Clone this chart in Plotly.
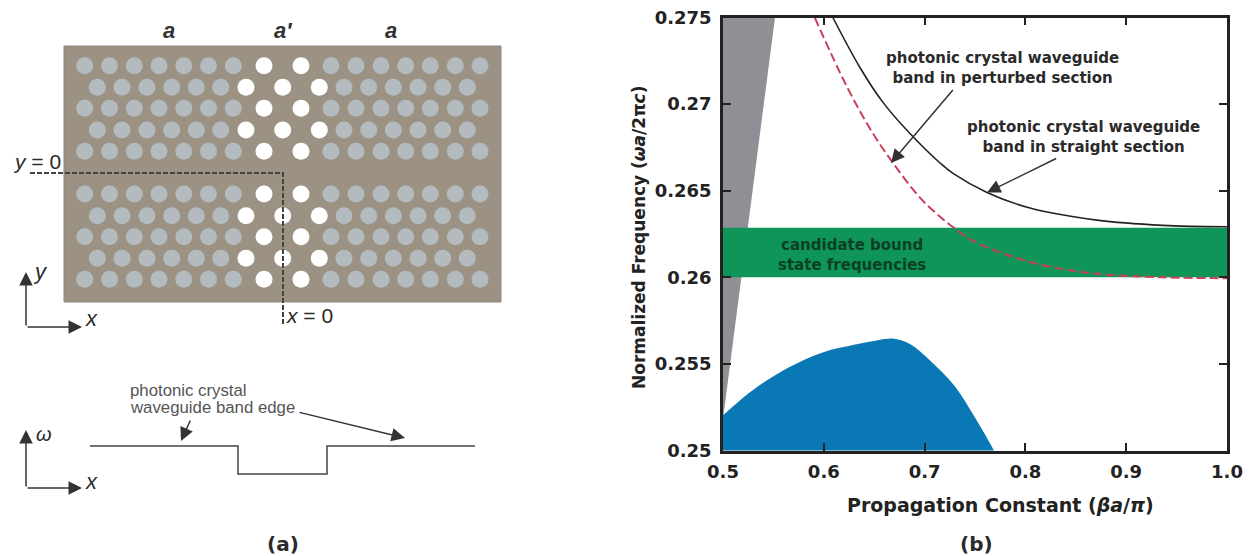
import plotly.graph_objects as go

# ---- panel (b) data ----
beta_straight = [0.609, 0.636, 0.6587, 0.6855, 0.7153, 0.7282, 0.7619, 0.8046, 0.871, 0.9365, 1.0]
freq_straight = [0.2750, 0.2721, 0.2701, 0.2683, 0.2666, 0.2660, 0.2649, 0.2640, 0.2633, 0.2630, 0.26292]
beta_perturbed = [0.591, 0.623, 0.6488, 0.6687, 0.6954, 0.7153, 0.7282, 0.748, 0.7817, 0.8175, 0.871, 0.9365, 1.0]
freq_perturbed = [0.2750, 0.2710, 0.2683, 0.2666, 0.2646, 0.2635, 0.2629, 0.2621, 0.2613, 0.2607, 0.2602, 0.2600, 0.25995]
beta_blue = [0.49, 0.5, 0.5298, 0.5655, 0.5982, 0.63, 0.6538, 0.6696, 0.6855, 0.7054, 0.7302, 0.75, 0.7688, 0.775, 0.49]
freq_blue = [0.2515, 0.25204, 0.2535, 0.2548, 0.25565, 0.2561, 0.25637, 0.25645, 0.25615, 0.2552, 0.2537, 0.2519, 0.25, 0.2493, 0.2493]
beta_gray = [0.5, 0.5, 0.5516, 0.5]
freq_gray = [0.2518, 0.275, 0.275, 0.2518]
beta_band = [0.5, 1.0, 1.0, 0.5, 0.5]
freq_band = [0.26, 0.26, 0.26286, 0.26286, 0.26]
x_ticks = [0.5, 0.6, 0.7, 0.8, 0.9, 1.0]
x_ticktext = ["0.5", "0.6", "0.7", "0.8", "0.9", "1.0"]
y_ticks = [0.25, 0.255, 0.26, 0.265, 0.27, 0.275]
y_ticktext = ["0.25", "0.255", "0.26", "0.265", "0.27", "0.275"]

# ---- panel (a) schematic, in picture units ----
slab_x = [64, 501, 501, 64, 64]
slab_y = [46, 46, 302, 302, 46]
rows_a = [65.7, 108.3, 151.3, 194, 236.7, 279.3]
rows_b = [87.3, 130, 215.7, 258.3]
cols_a_gray = [84.7, 109.5, 134.3, 159, 183.8, 208.5, 233.3, 331, 356, 381, 405.7, 430.3, 455.3, 480]
cols_a_white = [264, 301]
cols_b_gray = [97.3, 122, 147, 171.7, 196.3, 220.7, 344, 368.7, 393.3, 418, 442.7, 467.3]
cols_b_white = [246, 282.7, 319.3]
band_x = [90, 238, 238, 327, 327, 475]
band_y = [446, 446, 474, 474, 446, 446]
dash_x = [30, 283, 283]
dash_y = [173, 173, 325]

RED = "#c9405a"
INK = "#222222"
DJ = "DejaVu Sans"
LB = "Liberation Sans"

fig = go.Figure()

def grid(cols, rows):
    xs, ys = [], []
    for r in rows:
        for c in cols:
            xs.append(c)
            ys.append(r)
    return xs, ys

A = dict(xaxis="x2", yaxis="y2", showlegend=False, hoverinfo="skip")
fig.add_trace(go.Scatter(x=slab_x, y=slab_y, mode="lines", fill="toself", fillcolor="#9c9284",
                         line=dict(color="#8f8678", width=1), **A))
gx1, gy1 = grid(cols_a_gray, rows_a)
gx2, gy2 = grid(cols_b_gray, rows_b)
fig.add_trace(go.Scatter(x=gx1 + gx2, y=gy1 + gy2, mode="markers",
                         marker=dict(size=17, color="#b3bbbf", line=dict(width=0)), **A))
wx1, wy1 = grid(cols_a_white, rows_a)
wx2, wy2 = grid(cols_b_white, rows_b)
fig.add_trace(go.Scatter(x=wx1 + wx2, y=wy1 + wy2, mode="markers",
                         marker=dict(size=17, color="#ffffff", line=dict(width=0)), **A))
fig.add_trace(go.Scatter(x=dash_x, y=dash_y, mode="lines",
                         line=dict(color="#45413b", width=2, dash="5px,2px"), **A))
fig.add_trace(go.Scatter(x=band_x, y=band_y, mode="lines",
                         line=dict(color="#444444", width=1.5), **A))

B = dict(xaxis="x", yaxis="y", showlegend=False, hoverinfo="skip")
fig.add_trace(go.Scatter(x=beta_gray, y=freq_gray, mode="lines", fill="toself", fillcolor="#8f9095",
                         line=dict(width=0), **B))
fig.add_trace(go.Scatter(x=beta_blue, y=freq_blue, mode="lines", fill="toself",
                         fillcolor="#0a78b5", line=dict(width=0, shape="spline", smoothing=1), **B))
fig.add_trace(go.Scatter(x=beta_band, y=freq_band, mode="lines", fill="toself", fillcolor="#0f9558",
                         line=dict(width=0), **B))
fig.add_trace(go.Scatter(x=beta_straight, y=freq_straight, mode="lines",
                         line=dict(color="#222222", width=1.6, shape="spline", smoothing=1), **B))
fig.add_trace(go.Scatter(x=beta_perturbed, y=freq_perturbed, mode="lines",
                         line=dict(color=RED, width=2, dash="9px,4px", shape="spline", smoothing=1), **B))

AX = dict(ticks="inside", ticklen=8, tickwidth=2, tickcolor=INK, showline=True, linewidth=2.5, linecolor=INK,
          mirror="allticks", showgrid=False, zeroline=False, automargin=False,
          tickfont=dict(family=DJ, size=18, color=INK, weight=700))

fig.update_layout(
    width=1252, height=556, autosize=False, margin=dict(l=0, r=0, t=0, b=0),
    paper_bgcolor="white", plot_bgcolor="white",
    xaxis=dict(domain=[723 / 1252, 1227 / 1252], range=[0.5, 1.0], tickvals=x_ticks, ticktext=x_ticktext,
               ticklabelstandoff=3, **AX),
    yaxis=dict(domain=[105.5 / 556, 538.5 / 556], range=[0.25, 0.275], tickvals=y_ticks, ticktext=y_ticktext,
               ticklabelstandoff=5, **AX),
    xaxis2=dict(domain=[0, 520 / 1252], range=[0, 520], visible=False, anchor="y2"),
    yaxis2=dict(domain=[0, 1], range=[556, 0], visible=False, anchor="x2"),
)

def txt(x, y, s, size=15, family=LB, color="#2a2a2a", ax="x2", ay="y2", align="center", xanchor="center", angle=0):
    fig.add_annotation(x=x, y=y, xref=ax, yref=ay, text=s, showarrow=False, align=align, textangle=angle,
                       font=dict(family=family, size=size, color=color), xanchor=xanchor, yanchor="middle")

def arrow(x, y, x0, y0, ax="x2", ay="y2", color="#333333", width=1.5, head=2, size=1.8):
    fig.add_annotation(x=x, y=y, ax=x0, ay=y0, xref=ax, yref=ay, axref=ax, ayref=ay, text="",
                       showarrow=True, arrowhead=head, arrowsize=size, arrowwidth=width, arrowcolor=color)

# axis titles
txt(1000 / 1252, 1 - 505 / 556, "<b>Propagation Constant (<i>βa</i>/<i>π</i>)</b>", size=19, family=DJ, color=INK,
    ax="paper", ay="paper")
txt(639 / 1252, 1 - 238 / 556, "<b>Normalized Frequency (<i>ωa</i>/2π<i>c</i>)</b>", size=17, family=DJ, color=INK,
    ax="paper", ay="paper", angle=-90)

# panel (a) text
for xp, s in [(169, "a"), (283, "a′"), (391, "a")]:
    txt(xp, 30, f"<b><i>{s}</i></b>", size=22, family=LB, color="#333333")
txt(37, 161, "<i>y</i> = 0", size=21)
txt(309, 315, "<i>x</i> = 0", size=21)
txt(40, 271, "<i>y</i>", size=22)
txt(91, 318, "<i>x</i>", size=22)
txt(44, 434, "<i>ω</i>", size=20)
txt(91, 481, "<i>x</i>", size=22)
txt(128, 390, "photonic crystal", size=16.8, color="#555555", align="left", xanchor="left")
txt(128, 407, "waveguide band edge", size=16.8, color="#555555", align="left", xanchor="left")
txt(283 / 1252, 1 - 544 / 556, "<b>(a)</b>", size=20, family=DJ, ax="paper", ay="paper")
txt(976 / 1252, 1 - 544 / 556, "<b>(b)</b>", size=20, family=DJ, ax="paper", ay="paper")

arrow(26, 272, 26, 327)
arrow(82, 327, 26, 327)
arrow(26, 430, 26, 488)
arrow(82, 488, 26, 488)
arrow(181, 441, 191, 419)
arrow(405, 438, 298, 412)

# panel (b) text
txt(0.628, 0.26128, "<b>candidate bound<br>state frequencies</b>", size=15, family=DJ, color="#0b3f26", ax="x", ay="y")
txt(0.7768, 0.2721, "<b>photonic crystal waveguide<br>band in perturbed section</b>", size=15, family=DJ, ax="x", ay="y")
txt(0.8581, 0.2681, "<b>photonic crystal waveguide<br>band in straight section</b>", size=15, family=DJ, ax="x", ay="y")
arrow(0.6667, 0.2666, 0.7293, 0.2709, ax="x", ay="y")
arrow(0.7619, 0.2649, 0.832, 0.2669, ax="x", ay="y")

fig.write_html("out.html", post_script="document.body.style.margin='0';", config={"displayModeBar": False})
